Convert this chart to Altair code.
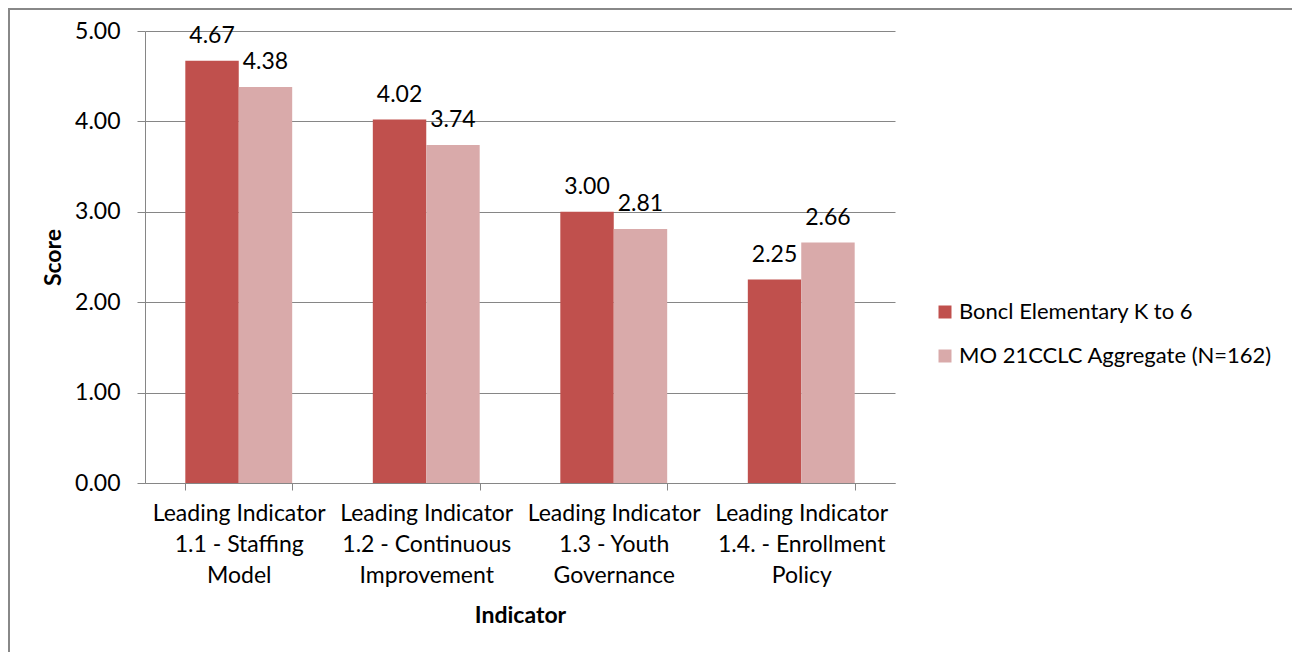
import altair as alt
import pandas as pd

categories = [
    "Leading Indicator|1.1 - Staffing|Model",
    "Leading Indicator|1.2 - Continuous|Improvement",
    "Leading Indicator|1.3 - Youth|Governance",
    "Leading Indicator|1.4. - Enrollment|Policy",
]
series_names = ["Boncl Elementary K to 6", "MO 21CCLC Aggregate (N=162)"]
boncl_values = [4.67, 4.02, 3.00, 2.25]
mo_values = [4.38, 3.74, 2.81, 2.66]
colors = ["#C0504D", "#D9AAAA"]

rows = []
for c, a, b in zip(categories, boncl_values, mo_values):
    rows.append({"Indicator": c, "Series": series_names[0], "Score": a})
    rows.append({"Indicator": c, "Series": series_names[1], "Score": b})
df = pd.DataFrame(rows)

FONT = "Lato"
FS = 23
LEGEND_FS = 22

x_enc = alt.X(
    "Indicator:N",
    sort=categories,
    scale=alt.Scale(paddingInner=0.43, paddingOuter=0.215),
    axis=alt.Axis(
        title="Indicator",
        labelAngle=0,
        labelExpr="split(datum.label, '|')",
        labelLineHeight=31,
        labelPadding=12,
        tickBand="extent",
        tickSize=7,
        titlePadding=17,
        grid=False,
    ),
)
xo_enc = alt.XOffset(
    "Series:N", sort=series_names, scale=alt.Scale(paddingInner=0, paddingOuter=0)
)
y_enc = alt.Y(
    "Score:Q",
    scale=alt.Scale(domain=[0, 5], nice=False),
    axis=alt.Axis(
        title="Score",
        values=[0, 1, 2, 3, 4, 5],
        format=".2f",
        tickSize=8,
        labelPadding=17,
        titlePadding=9,
        grid=True,
    ),
)

base = alt.Chart(df)

bars = base.mark_bar().encode(
    x=x_enc,
    xOffset=xo_enc,
    y=y_enc,
    color=alt.Color(
        "Series:N",
        sort=series_names,
        scale=alt.Scale(domain=series_names, range=colors),
        legend=alt.Legend(
            title=None,
            orient="none",
            legendX=789,
            legendY=270,
            symbolType="square",
            symbolSize=169,
            symbolStrokeWidth=0,
            labelOffset=3,
            labelLimit=0,
            rowPadding=22,
            padding=0,
        ),
    ),
)

labels = base.mark_text(dy=-18, baseline="alphabetic", font=FONT, fontSize=FS, color="#000000").encode(
    x=alt.X("Indicator:N", sort=categories),
    xOffset=alt.XOffset("Series:N", sort=series_names),
    y="Score:Q",
    text=alt.Text("Score:Q", format=".2f"),
)

border = alt.Chart(pd.DataFrame({"a": [0]})).mark_rect(
    fill=None, stroke="#888888", strokeWidth=2
).encode(
    x=alt.value(-136),
    y=alt.value(-22),
    x2=alt.value(1400),
    y2=alt.value(900),
)

chart = alt.layer(border, bars, labels).properties(
    width=750,
    height=452,
    padding={"left": 137, "top": 23, "right": 397, "bottom": 169},
    autosize=alt.AutoSizeParams(type="none"),
).configure_view(
    stroke=None
).configure_axis(
    labelFont=FONT,
    labelFontSize=FS,
    labelColor="#000000",
    titleFont=FONT,
    titleFontSize=FS,
    titleFontWeight="bold",
    titleColor="#000000",
    domainColor="#868686",
    tickColor="#868686",
    gridColor="#868686",
    domainWidth=1,
    gridWidth=1,
).configure_legend(
    labelFont=FONT,
    labelFontSize=LEGEND_FS,
    labelColor="#000000",
)

chart.save("out.html", embed_options={"renderer": "svg", "actions": False})
